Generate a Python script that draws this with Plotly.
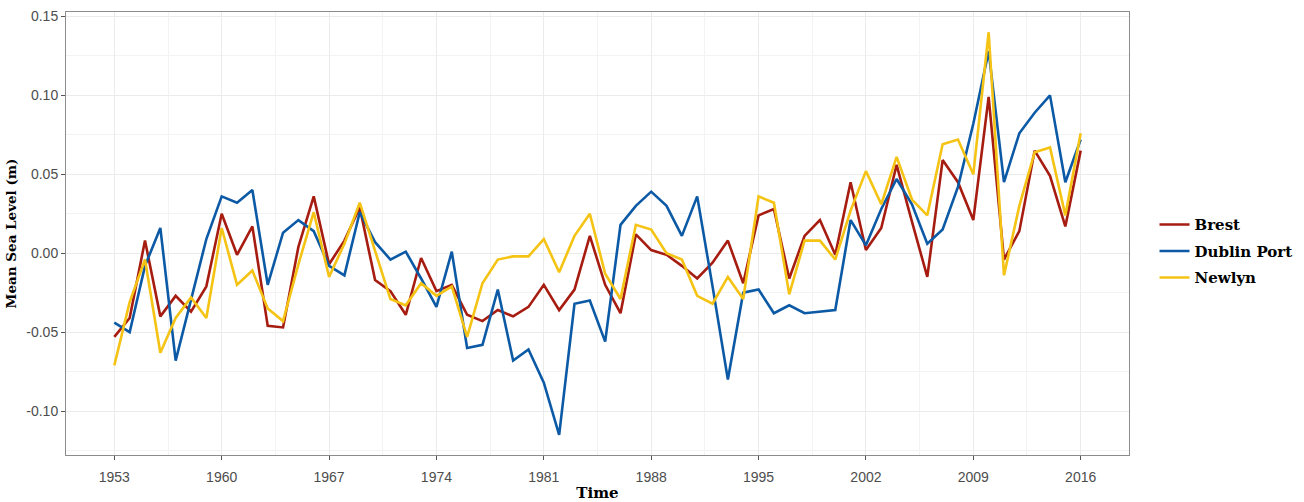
import plotly.graph_objects as go

years = list(range(1953, 2017))

brest = [
    -0.053, -0.041, 0.008, -0.040, -0.027, -0.037, -0.021, 0.025, -0.001, 0.017,
    -0.046, -0.047, 0.004, 0.036, -0.007, 0.008, 0.029, -0.017, -0.024, -0.039,
    -0.003, -0.024, -0.020, -0.039, -0.043, -0.036, -0.040, -0.034, -0.020, -0.036,
    -0.023, 0.011, -0.020, -0.038, 0.012, 0.002, -0.001, -0.008, -0.016, -0.006,
    0.008, -0.019, 0.024, 0.028, -0.016, 0.011, 0.021, -0.001, 0.045, 0.002,
    0.016, 0.056, 0.020, -0.015, 0.059, 0.045, 0.021, 0.099, -0.004, 0.014,
    0.065, 0.049, 0.017, 0.065,
]

dublin_port = [
    -0.044, -0.050, -0.008, 0.016, -0.068, -0.030, 0.009, 0.036, 0.032, 0.040,
    -0.020, 0.013, 0.021, 0.014, -0.008, -0.014, 0.026, 0.007, -0.004, 0.001,
    -0.016, -0.034, 0.001, -0.060, -0.058, -0.023, -0.068, -0.061, -0.082, -0.115,
    -0.032, -0.030, -0.056, 0.018, 0.030, 0.039, 0.030, 0.011, 0.036, -0.021,
    -0.080, -0.025, -0.023, -0.038, -0.033, -0.038, -0.037, -0.036, 0.021, 0.005,
    0.028, 0.047, 0.031, 0.006, 0.015, 0.042, 0.082, 0.128, 0.045, 0.076,
    0.089, 0.100, 0.045, 0.072,
]

newlyn = [
    -0.071, -0.031, -0.004, -0.063, -0.041, -0.028, -0.041, 0.016, -0.020, -0.011,
    -0.035, -0.043, -0.007, 0.026, -0.015, 0.006, 0.032, 0.001, -0.029, -0.033,
    -0.019, -0.027, -0.021, -0.053, -0.019, -0.004, -0.002, -0.002, 0.009, -0.012,
    0.011, 0.025, -0.013, -0.029, 0.018, 0.015, 0.000, -0.004, -0.027, -0.032,
    -0.015, -0.029, 0.036, 0.032, -0.026, 0.008, 0.008, -0.004, 0.027, 0.052,
    0.031, 0.061, 0.034, 0.024, 0.069, 0.072, 0.050, 0.140, -0.014, 0.030,
    0.064, 0.067, 0.024, 0.076,
]

series_names = ["Brest", "Dublin Port", "Newlyn"]
series_values = [brest, dublin_port, newlyn]
series_colors = ["#A61C10", "#0C5AA5", "#F5C314"]

x_tickvals = [1953, 1960, 1967, 1974, 1981, 1988, 1995, 2002, 2009, 2016]
y_tickvals = [-0.10, -0.05, 0.00, 0.05, 0.10, 0.15]
y_ticktext = ["-0.10", "-0.05", "0.00", "0.05", "0.10", "0.15"]

fig = go.Figure()
for i, (name, vals, col) in enumerate(zip(series_names, series_values, series_colors)):
    fig.add_trace(go.Scatter(
        x=years, y=vals, mode="lines", name=name,
        line=dict(color=col, width=2.6),
        legendgroup=name,
    ))

tick_font = dict(family="Liberation Sans, Arial, sans-serif", size=14, color="#4D4D4D")
title_font = "DejaVu Serif, serif"

fig.update_layout(
    width=1304, height=502,
    margin=dict(l=66, r=175, t=12, b=47, autoexpand=False),
    paper_bgcolor="white", plot_bgcolor="white",
    showlegend=True,
    legend=dict(
        x=1.024, xanchor="left", y=0.46, yanchor="middle",
        font=dict(family=title_font, size=15, color="#000000", weight="bold"),
        tracegroupgap=4, bgcolor="rgba(0,0,0,0)",
    ),
    xaxis=dict(
        range=[1949.85, 2019.15], automargin=False,
        tickmode="array", tickvals=x_tickvals,
        ticks="outside", ticklen=4, tickcolor="#555555", tickwidth=1,
        tickfont=tick_font, ticklabelstandoff=5,
        showgrid=True, gridcolor="#EBEBEB", gridwidth=1,
        minor=dict(tickmode="array",
                   tickvals=[v + 3.5 for v in x_tickvals[:-1]] + [x_tickvals[0] - 3.5, x_tickvals[-1] + 3.5],
                   showgrid=True, gridcolor="#F3F3F3", gridwidth=1, ticks=""),
        showline=True, mirror=True, linecolor="#8C8C8C", linewidth=1,
        zeroline=False,
        title=dict(text="Time", font=dict(family=title_font, size=15, color="#000000", weight="bold"),
                   standoff=4),
    ),
    yaxis=dict(
        range=[-0.1278, 0.1528], automargin=False,
        tickmode="array", tickvals=y_tickvals, ticktext=y_ticktext,
        ticks="outside", ticklen=4, tickcolor="#555555", tickwidth=1,
        tickfont=tick_font,
        showgrid=True, gridcolor="#EBEBEB", gridwidth=1,
        minor=dict(tickmode="array",
                   tickvals=[v + 0.025 for v in y_tickvals] + [-0.125],
                   showgrid=True, gridcolor="#F3F3F3", gridwidth=1, ticks=""),
        showline=True, mirror=True, linecolor="#8C8C8C", linewidth=1,
        zeroline=False,
        title=dict(text="Mean Sea Level (m)", font=dict(family=title_font, size=13.5, color="#000000", weight="bold"),
                   standoff=6),
    ),
)

fig.write_html("out.html")
